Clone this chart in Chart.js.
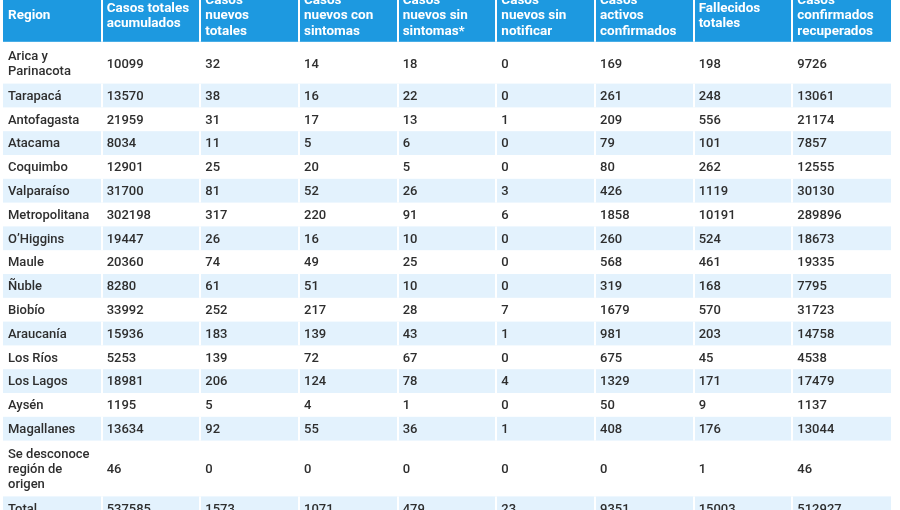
<!DOCTYPE html>
<html><head><meta charset="utf-8">
<script src="https://cdn.jsdelivr.net/npm/chart.js@4/dist/chart.umd.min.js"></script>
<style>html,body{margin:0;padding:0;background:#fff;}#wrap{width:900px;height:510px;position:relative}</style>
</head><body><div id="wrap"><canvas id="c"></canvas></div>
<script>
// ---- data ----
const headers = [
  ["Region"], ["Casos totales","acumulados"], ["Casos","nuevos","totales"],
  ["Casos","nuevos con","sintomas"], ["Casos","nuevos sin","sintomas*"],
  ["Casos","nuevos sin","notificar"], ["Casos","activos","confirmados"],
  ["Fallecidos","totales"], ["Casos","confirmados","recuperados"]
];
const regions = [
  ["Arica y","Parinacota"],["Tarapacá"],["Antofagasta"],["Atacama"],["Coquimbo"],
  ["Valparaíso"],["Metropolitana"],["O’Higgins"],["Maule"],["Ñuble"],["Biobío"],
  ["Araucanía"],["Los Ríos"],["Los Lagos"],["Aysén"],["Magallanes"],
  ["Se desconoce","región de","origen"],["Total"]
];
const casosTotales   = [10099,13570,21959,8034,12901,31700,302198,19447,20360,8280,33992,15936,5253,18981,1195,13634,46,537585];
const nuevosTotales  = [32,38,31,11,25,81,317,26,74,61,252,183,139,206,5,92,0,1573];
const nuevosConSint  = [14,16,17,5,20,52,220,16,49,51,217,139,72,124,4,55,0,1071];
const nuevosSinSint  = [18,22,13,6,5,26,91,10,25,10,28,43,67,78,1,36,0,479];
const sinNotificar   = [0,0,1,0,0,3,6,0,0,0,7,1,0,4,0,1,0,23];
const activos        = [169,261,209,79,80,426,1858,260,568,319,1679,981,675,1329,50,408,0,9351];
const fallecidos     = [198,248,556,101,262,1119,10191,524,461,168,570,203,45,171,9,176,1,15003];
const recuperados    = [9726,13061,21174,7857,12555,30130,289896,18673,19335,7795,31723,14758,4538,17479,1137,13044,46,512927];

const valueCols = [casosTotales,nuevosTotales,nuevosConSint,nuevosSinSint,sinNotificar,activos,fallecidos,recuperados];

// ---- layout in scale units (row extents from line counts) ----
const HEADER_TOP = -14, LINE_H = 16, ROW_PAD = 7.8, HEADER_GAP = 2;
const rows = [];
let y = HEADER_TOP;
const hh = ROW_PAD + LINE_H*3;
rows.push({top:y,bottom:y+hh,kind:'header'});
y += hh + HEADER_GAP;
regions.forEach((r,i)=>{
  const h = ROW_PAD + LINE_H*r.length;
  rows.push({top:y,bottom:y+h,kind:i%2? 'light':'white'});
  y += h;
});

// cell points (centers) for the library
const cellPoints = [];
rows.forEach((row,ri)=>{
  for(let c=0;c<9;c++) cellPoints.push({x:c+0.5,y:(row.top+row.bottom)/2,r:ri,c:c});
});

const tablePlugin = {
  id:'table',
  beforeDatasetsDraw(chart){
    const ctx = chart.ctx, xs = chart.scales.x, ys = chart.scales.y;
    ctx.save();
    const xL = xs.getPixelForValue(0), xR = xs.getPixelForValue(9);
    rows.forEach((row,ri)=>{
      const t = ys.getPixelForValue(row.top), b = ys.getPixelForValue(row.bottom);
      if(row.kind==='white') return;
      ctx.fillStyle = row.kind==='header' ? '#1d99e0' : '#e3f2fd';
      ctx.fillRect(xL, t, xR-xL, b-t);
      ctx.fillStyle = '#ffffff';
      for(let c=1;c<9;c++){
        const xb = xs.getPixelForValue(c);
        ctx.fillRect(Math.round(xb)-1, t, 2, b-t);
      }
    });
    chart.getDatasetMeta(0).data.forEach((el,i)=>{
      const p = cellPoints[i];
      const x0 = xs.getPixelForValue(p.c);
      let lines, LH, dy;
      if(p.r===0){
        lines = headers[p.c];
        ctx.fillStyle = '#ffffff';
        ctx.font = 'bold 13.5px Roboto, "Noto Sans", sans-serif';
        LH = 15.5; dy = 2;
      } else {
        const d = p.r-1;
        lines = p.c===0 ? regions[d] : [String(valueCols[p.c-1][d])];
        ctx.fillStyle = '#2e2e2e';
        ctx.font = '500 13px Roboto, "Noto Sans", sans-serif';
        LH = 15; dy = 1;
      }
      ctx.textBaseline = 'middle';
      ctx.textAlign = 'left';
      const n = lines.length;
      lines.forEach((ln,k)=>{
        ctx.fillText(ln, x0+5, el.y + (k-(n-1)/2)*LH + dy);
      });
    });
    ctx.restore();
  }
};

new Chart(document.getElementById('c'),{
  type:'scatter',
  data:{datasets:[{data:cellPoints,pointRadius:0,pointHoverRadius:0,showLine:false}]},
  options:{
    responsive:true, maintainAspectRatio:false, animation:false,
    events:[],
    layout:{padding:{left:3,right:9,top:0,bottom:0}},
    plugins:{legend:{display:false},tooltip:{enabled:false}},
    scales:{
      x:{type:'linear',min:0,max:9,display:false},
      y:{type:'linear',min:0,max:510,reverse:true,display:false}
    }
  },
  plugins:[tablePlugin]
});
</script>
</body></html>
